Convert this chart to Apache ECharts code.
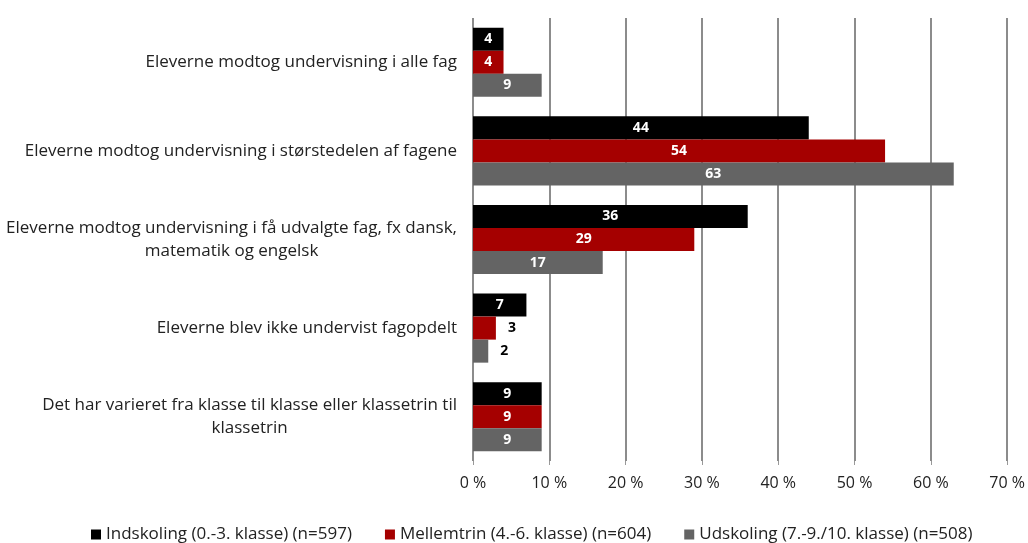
<!DOCTYPE html>
<html>
<head>
<meta charset="utf-8">
<script src="https://cdn.jsdelivr.net/npm/echarts@6/dist/echarts.min.js"></script>
<style>
  html, body { margin: 0; padding: 0; background: #fff; }
  #chart { width: 1028px; height: 543px; }
</style>
</head>
<body>
<div id="chart"></div>
<script>
var categories = [
    "Eleverne modtog undervisning i alle fag",
    "Eleverne modtog undervisning i størstedelen af fagene",
    "Eleverne modtog undervisning i få udvalgte fag, fx dansk,\nmatematik og engelsk",
    "Eleverne blev ikke undervist fagopdelt",
    "Det har varieret fra klasse til klasse eller klassetrin til\nklassetrin"
];
var seriesNames = [
    "Indskoling (0.-3. klasse) (n=597)",
    "Mellemtrin (4.-6. klasse) (n=604)",
    "Udskoling (7.-9./10. klasse) (n=508)"
];
var indskoling = [4, 44, 36, 7, 9];
var mellemtrin = [4, 54, 29, 3, 9];
var udskoling = [9, 63, 17, 2, 9];
var colors = ["#000000", "#a50000", "#646464"];

var FONT = "Open Sans";

function makeSeries(name, values, color) {
    return {
        name: name,
        type: "bar",
        barGap: "0%",
        barCategoryGap: "22%",
        itemStyle: { color: color },
        label: {
            show: true,
            position: "inside",
            color: "#fff",
            fontWeight: "bold",
            fontSize: 14,
            fontFamily: FONT,
        },
        data: values.map(function (v) {
            // small bars get their label outside, in black
            if (v <= 3) {
                return { value: v, label: { position: "right", color: "#000", distance: 12 } };
            }
            return v;
        }),
    };
}

var myChart = echarts.init(document.getElementById("chart"));
var option = {
    animation: false,
    textStyle: { fontFamily: FONT },
    color: colors,
    grid: { left: 473, right: 19, top: 18, bottom: 82 },
    legend: {
        top: 521,
        left: 86,
        icon: "rect",
        itemWidth: 10,
        itemHeight: 10,
        itemGap: 33,
        textStyle: { color: "#222", fontSize: 17, fontFamily: FONT },
        data: seriesNames,
    },
    xAxis: {
        type: "value",
        min: 0,
        max: 70,
        interval: 10,
        axisLine: { show: false },
        axisTick: { show: true, length: 4, lineStyle: { color: "#999", width: 1 } },
        splitLine: { show: true, lineStyle: { color: "#8c8c8c", width: 2 } },
        axisLabel: {
            color: "#222",
            fontSize: 16,
            margin: 14,
            formatter: "{value} %",
        },
    },
    yAxis: {
        type: "category",
        inverse: true,
        data: categories,
        axisLine: { show: false },
        axisTick: { show: false },
        axisLabel: {
            color: "#222",
            fontSize: 17,
            margin: 16,
            align: "right",
            formatter: function (v) {
                return v.split("\n").map(function (s) { return "{c|" + s + "}"; }).join("\n");
            },
            rich: {
                c: { align: "center", color: "#222", fontSize: 17, fontFamily: FONT, lineHeight: 23 },
            },
        },
    },
    series: [
        makeSeries(seriesNames[0], indskoling, colors[0]),
        makeSeries(seriesNames[1], mellemtrin, colors[1]),
        makeSeries(seriesNames[2], udskoling, colors[2]),
    ],
};
myChart.setOption(option, true);
</script>
</body>
</html>
